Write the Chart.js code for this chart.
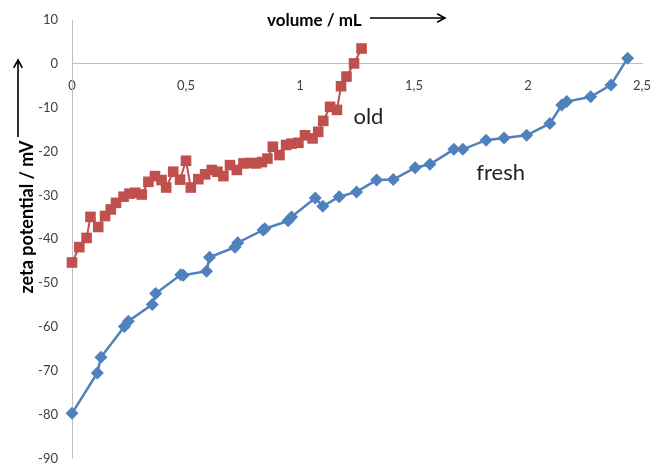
<!DOCTYPE html>
<html>
<head>
    <title>Zeta potential vs. volume</title>
    <script src="https://cdn.jsdelivr.net/npm/chart.js"></script>
    <style>
        html, body { margin: 0; padding: 0; background: #fff; }
        #wrap { width: 655px; height: 466px; }
    </style>
</head>
<body>
    <div id="wrap"><canvas id="zetaChart"></canvas></div>

    <script>
        // "old" sample: volume (mL) and zeta potential (mV)
        const oldVolume = [0, 0.032, 0.064, 0.081, 0.115, 0.145, 0.17, 0.193, 0.226, 0.252,
            0.277, 0.306, 0.335, 0.364, 0.393, 0.413, 0.444, 0.474, 0.5, 0.521,
            0.554, 0.584, 0.613, 0.638, 0.664, 0.693, 0.723, 0.752, 0.781, 0.807,
            0.833, 0.857, 0.881, 0.91, 0.939, 0.963, 0.993, 1.022, 1.055, 1.08,
            1.102, 1.132, 1.162, 1.18, 1.204, 1.237, 1.27];
        const oldZeta = [-45.3, -41.8, -39.7, -34.9, -37.2, -34.7, -33.2, -31.7, -30.3, -29.6,
            -29.4, -29.8, -26.9, -25.6, -26.5, -28.2, -24.6, -26.4, -22.1, -28.2,
            -26.3, -25.2, -24.2, -24.6, -25.6, -23.1, -24.2, -22.7, -22.6, -22.7,
            -22.4, -21.6, -18.9, -20.8, -18.5, -18.2, -18.0, -16.3, -17.0, -15.5,
            -13.0, -9.8, -10.5, -5.1, -2.9, 0.1, 3.5];

        // "fresh" sample
        const freshVolume = [0, 0.111, 0.127, 0.23, 0.247, 0.352, 0.367, 0.477, 0.488, 0.59,
            0.603, 0.715, 0.727, 0.838, 0.846, 0.948, 0.963, 1.067, 1.1, 1.172,
            1.248, 1.336, 1.409, 1.505, 1.57, 1.675, 1.714, 1.816, 1.895, 1.994,
            2.096, 2.148, 2.17, 2.275, 2.364, 2.437];
        const freshZeta = [-79.7, -70.5, -66.9, -59.9, -58.7, -54.9, -52.4, -48.1, -48.2, -47.3,
            -44.1, -41.8, -40.8, -37.9, -37.6, -35.8, -34.9, -30.6, -32.5, -30.3,
            -29.2, -26.5, -26.4, -23.7, -22.9, -19.5, -19.5, -17.4, -16.9, -16.3,
            -13.6, -9.4, -8.6, -7.5, -4.8, 1.3];

        const xRange = [0, 2.5];
        const xStep = 0.5;
        const yRange = [-90, 10];
        const yStep = 10;

        // series labels placed in data units
        const seriesLabels = [
            { text: 'old', x: 1.30, y: -12.2 },
            { text: 'fresh', x: 1.88, y: -24.9 }
        ];

        const RED = '#C0504D';
        const BLUE = '#4F81BD';
        const FONT = 'Lato, "Open Sans", sans-serif';

        const toPoints = (xs, ys) => xs.map((v, i) => ({ x: v, y: ys[i] }));

        function drawArrow(ctx, x1, y1, x2, y2) {
            const ang = Math.atan2(y2 - y1, x2 - x1);
            const head = 9;
            ctx.beginPath();
            ctx.moveTo(x1, y1);
            ctx.lineTo(x2, y2);
            ctx.moveTo(x2 - head * Math.cos(ang - 0.5), y2 - head * Math.sin(ang - 0.5));
            ctx.lineTo(x2, y2);
            ctx.lineTo(x2 - head * Math.cos(ang + 0.5), y2 - head * Math.sin(ang + 0.5));
            ctx.stroke();
        }

        // axis titles with arrows + in-plot series names
        const annotations = {
            id: 'annotations',
            afterDraw(chart) {
                const { ctx, scales: { x, y } } = chart;
                ctx.save();
                ctx.fillStyle = '#000';
                ctx.strokeStyle = '#000';
                ctx.lineWidth = 1.6;

                ctx.font = 'bold 17px ' + FONT;
                ctx.textAlign = 'left';
                ctx.textBaseline = 'middle';
                ctx.fillText('volume / mL', 267, 21);
                drawArrow(ctx, 370, 18, 445, 18);

                ctx.save();
                ctx.translate(27, 217);
                ctx.rotate(-Math.PI / 2);
                ctx.textAlign = 'center';
                ctx.font = 'bold 18px ' + FONT;
                ctx.fillText('zeta potential / mV', 0, 0);
                ctx.restore();
                drawArrow(ctx, 18, 137, 18, 60);

                ctx.font = '22px ' + FONT;
                ctx.fillStyle = '#222';
                ctx.textAlign = 'center';
                seriesLabels.forEach(l => {
                    ctx.fillText(l.text, x.getPixelForValue(l.x), y.getPixelForValue(l.y));
                });
                ctx.restore();
            }
        };

        const ctx = document.getElementById('zetaChart').getContext('2d');
        new Chart(ctx, {
            type: 'scatter',
            data: {
                datasets: [{
                    label: 'fresh',
                    data: toPoints(freshVolume, freshZeta),
                    showLine: true,
                    borderColor: BLUE,
                    backgroundColor: BLUE,
                    borderWidth: 2.5,
                    pointStyle: 'rectRot',
                    pointRadius: 6.5,
                    pointBorderWidth: 0,
                    clip: false
                }, {
                    label: 'old',
                    data: toPoints(oldVolume, oldZeta),
                    showLine: true,
                    borderColor: RED,
                    backgroundColor: RED,
                    borderWidth: 2,
                    pointStyle: 'rect',
                    pointRadius: 7.5,
                    pointBorderWidth: 0,
                    clip: false
                }]
            },
            options: {
                responsive: true,
                maintainAspectRatio: false,
                animation: false,
                layout: { padding: { left: 0, right: 13, top: 20, bottom: 6 } },
                plugins: {
                    legend: { display: false },
                    tooltip: { enabled: false }
                },
                scales: {
                    x: {
                        type: 'linear',
                        position: { y: 0 },
                        min: xRange[0],
                        max: xRange[1],
                        grid: { display: false, drawTicks: false },
                        border: { color: '#BFBFBF', width: 1 },
                        ticks: {
                            stepSize: xStep,
                            padding: 14,
                            color: '#404040',
                            font: { family: FONT, size: 13 },
                            callback: v => String(v).replace('.', ',')
                        },
                        afterFit: scale => {
                            scale.height = 0;
                            scale.paddingLeft = 0;
                            scale.paddingRight = 0;
                        }
                    },
                    y: {
                        position: 'left',
                        min: yRange[0],
                        max: yRange[1],
                        grid: { display: false, drawTicks: false },
                        border: { color: '#BFBFBF', width: 1 },
                        ticks: {
                            stepSize: yStep,
                            padding: 14,
                            color: '#404040',
                            font: { family: FONT, size: 13 }
                        },
                        afterFit: scale => {
                            scale.width = 72;
                            scale.paddingTop = 0;
                            scale.paddingBottom = 0;
                        }
                    }
                }
            },
            plugins: [annotations]
        });
    </script>
</body>
</html>
